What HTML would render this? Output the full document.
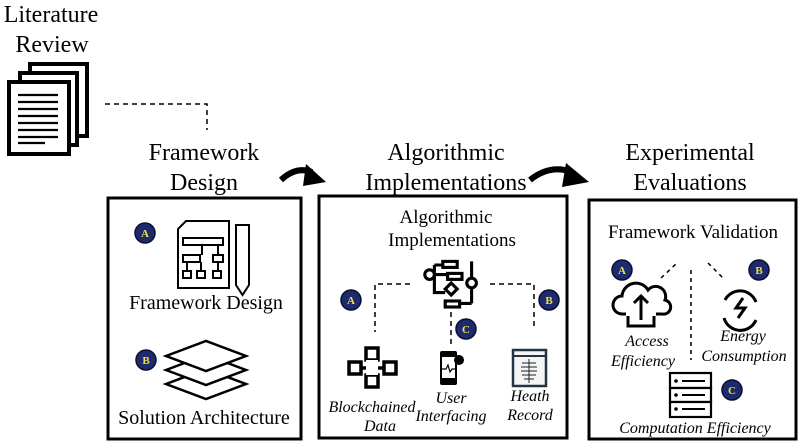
<!DOCTYPE html>
<html><head><style>
html,body{margin:0;padding:0;background:#fff;}
svg{display:block;font-family:"Liberation Serif",serif;}
</style></head><body>
<svg width="800" height="442" viewBox="0 0 800 442" xmlns="http://www.w3.org/2000/svg">
<defs>
<g id="badge"><circle r="10" fill="#1d2a6e" stroke="#0a1030" stroke-width="1.5"/></g>
</defs>
<!-- Literature review -->
<text x="51" y="22" font-size="24" text-anchor="middle">Literature</text>
<text x="52" y="52" font-size="24" text-anchor="middle">Review</text>
<g fill="#fff" stroke="#000" stroke-width="4">
<rect x="30" y="64" width="57" height="72"/>
<rect x="20" y="73" width="57" height="72"/>
<rect x="9" y="82" width="60" height="72"/>
</g>
<g stroke="#000" stroke-width="2.2">
<line x1="18" y1="95" x2="58" y2="95"/><line x1="18" y1="102" x2="58" y2="102"/>
<line x1="18" y1="109" x2="58" y2="109"/><line x1="18" y1="116" x2="58" y2="116"/>
<line x1="18" y1="123" x2="58" y2="123"/><line x1="18" y1="130" x2="58" y2="130"/>
<line x1="18" y1="137" x2="58" y2="137"/><line x1="18" y1="143" x2="45" y2="143"/>
</g>
<polyline points="105,104 207,104 207,130" fill="none" stroke="#000" stroke-width="1.5" stroke-dasharray="5,4"/>

<!-- headings -->
<g font-size="24" text-anchor="middle">
<text x="204" y="160">Framework</text><text x="204" y="190">Design</text>
<text x="446" y="160">Algorithmic</text><text x="446" y="190">Implementations</text>
<text x="690" y="160">Experimental</text><text x="690" y="190">Evaluations</text>
</g>
<!-- curved arrows -->
<path d="M281,180 Q296,166 312,172" fill="none" stroke="#000" stroke-width="6"/>
<polygon points="306,164 326,182 303,186" fill="#000"/>
<path d="M530,180 Q550,164 572,172" fill="none" stroke="#000" stroke-width="6"/>
<polygon points="566,163 589,182 562,187" fill="#000"/>

<!-- boxes -->
<g fill="none" stroke="#000" stroke-width="3">
<rect x="108" y="198" width="193" height="241"/>
<rect x="319" y="196" width="248" height="242"/>
<rect x="589" y="200" width="207" height="239"/>
</g>

<!-- Box 1 -->
<use href="#badge" x="145" y="233"/><text x="145" y="237" font-size="11" fill="#f0e040" text-anchor="middle" font-weight="bold">A</text>
<g fill="none" stroke="#000" stroke-width="2">
<path d="M186,221 L229,221 L229,288 L178,288 L178,229 Z"/>
<rect x="183" y="238" width="40" height="7"/><rect x="183" y="255" width="17" height="7"/><rect x="213" y="255" width="10" height="7"/>
<rect x="183" y="271" width="8" height="7"/><rect x="197" y="271" width="8" height="7"/><rect x="213" y="271" width="8" height="7"/>
<path d="M202,245 v10 M218,245 v10 M187,262 v9 M201,262 v9 M218,262 v9"/>
<path d="M236,225 h13 v60 l-6.5,10 l-6.5,-10 z"/>
</g>
<text x="206" y="309" font-size="20" text-anchor="middle">Framework Design</text>
<use href="#badge" x="146" y="360"/><text x="146" y="364" font-size="11" fill="#f0e040" text-anchor="middle" font-weight="bold">B</text>
<g fill="#fff" stroke="#000" stroke-width="2.5">
<path d="M166,384 L206,369 L246,384 L206,399 Z"/>
<path d="M166,370 L206,355 L246,370 L206,385 Z"/>
<path d="M166,356 L206,341 L246,356 L206,371 Z"/>
</g>
<text x="204" y="424" font-size="20" text-anchor="middle">Solution Architecture</text>

<!-- Box 2 -->
<text x="446" y="223" font-size="19" text-anchor="middle">Algorithmic</text>
<text x="452" y="246" font-size="19" text-anchor="middle">Implementations</text>
<g fill="none" stroke="#000" stroke-width="2.6" transform="translate(450,283) scale(1.2) translate(-450,-283)">
<rect x="444" y="265" width="12" height="5"/><rect x="448" y="275" width="12" height="5"/>
<circle cx="433" cy="276" r="4"/><path d="M446,288 l5,-5 l5,5 l-5,5 z"/>
<rect x="446" y="298" width="12" height="5"/><circle cx="468" cy="283" r="4"/>
<path d="M437,268 h7 M437,268 v23 h9 M468,265 v14 M468,287 v13 M458,300 h10 M437,276 h11"/>
</g>
<g fill="none" stroke="#000" stroke-width="1.5" stroke-dasharray="5,4">
<polyline points="410,284 375,284 375,332"/>
<polyline points="490,284 534,284 534,330"/>
<line x1="451" y1="312" x2="451" y2="345"/>
</g>
<use href="#badge" x="351" y="300"/><text x="351" y="304" font-size="11" fill="#f0e040" text-anchor="middle" font-weight="bold">A</text>
<use href="#badge" x="549" y="300"/><text x="549" y="304" font-size="11" fill="#f0e040" text-anchor="middle" font-weight="bold">B</text>
<use href="#badge" x="466" y="329"/><text x="466" y="333" font-size="11" fill="#f0e040" text-anchor="middle" font-weight="bold">C</text>
<g fill="#fff" stroke="#000" stroke-width="3.5">
<rect x="366" y="348" width="12" height="12"/><rect x="349" y="362" width="12" height="12"/>
<rect x="384" y="362" width="12" height="12"/><rect x="366" y="375" width="12" height="12"/>
<path d="M372,360 v15 M361,368 h23" />
</g>
<rect x="366" y="360" width="12" height="15" fill="#fff"/>
<rect x="440" y="351" width="17" height="34" rx="2" fill="#000"/><rect x="442" y="357" width="13" height="21" fill="#fff"/>
<path d="M442,369 h4 l2,-4 l2,7 l2,-3 h3" fill="none" stroke="#000" stroke-width="1.2"/>
<circle cx="459" cy="360" r="5" fill="#000"/>
<rect x="513" y="350" width="33" height="36" fill="#f4f4f4" stroke="#234" stroke-width="2.5"/>
<line x1="513" y1="356" x2="546" y2="356" stroke="#234" stroke-width="2"/>
<path d="M529,359 v24 M522,363 h14 M521,367 h16 M521,371 h16 M522,375 h14 M524,379 h10" stroke="#222" stroke-width="1"/>
<g font-size="16" font-style="italic" text-anchor="middle">
<text x="372" y="412">Blockchained</text><text x="380" y="431">Data</text>
<text x="451" y="403">User</text><text x="451" y="421">Interfacing</text>
<text x="530" y="401">Heath</text><text x="530" y="420">Record</text>
</g>

<!-- Box 3 -->
<text x="693" y="238" font-size="19" text-anchor="middle">Framework Validation</text>
<g fill="none" stroke="#000" stroke-width="1.5" stroke-dasharray="4,4">
<line x1="661" y1="278" x2="678" y2="262"/>
<line x1="708" y1="263" x2="725" y2="280"/>
<line x1="691" y1="270" x2="691" y2="360"/>
</g>
<use href="#badge" x="622" y="270"/><text x="622" y="274" font-size="11" fill="#f0e040" text-anchor="middle" font-weight="bold">A</text>
<use href="#badge" x="759" y="270"/><text x="759" y="274" font-size="11" fill="#f0e040" text-anchor="middle" font-weight="bold">B</text>
<use href="#badge" x="732" y="390"/><text x="732" y="394" font-size="11" fill="#f0e040" text-anchor="middle" font-weight="bold">C</text>
<g fill="none" stroke="#000" stroke-width="3">
<path d="M626,314 h-4 a9,9 0 0 1 0,-18 a14,14 0 0 1 26,-6 a10,10 0 0 1 17,10 a7,7 0 0 1 -3,14 h-6"/>
<path d="M641,320 v-24 M634,303 l7,-7 l7,7"/>
<path d="M628,316 v10 h26 v-10"/>
<path d="M725,300 a17,17 0 0 1 31,2 M756,320 a17,17 0 0 1 -32,-2"/>
<path d="M743,298 l-7,10 h9 l-7,10"/>
</g>
<g font-size="16" font-style="italic" text-anchor="middle">
<text x="647" y="346">Access</text><text x="643" y="366">Efficiency</text>
<text x="743" y="341">Energy</text><text x="744" y="361">Consumption</text>
<text x="695" y="433">Computation Efficiency</text>
</g>
<g fill="#fff" stroke="#000" stroke-width="2.2">
<rect x="670" y="373" width="41" height="15"/><rect x="670" y="388" width="41" height="14"/><rect x="670" y="402" width="41" height="15"/>
</g>
<g stroke="#000" stroke-width="2">
<line x1="682" y1="381" x2="705" y2="381"/><line x1="682" y1="395" x2="705" y2="395"/><line x1="682" y1="409" x2="705" y2="409"/>
</g>
<circle cx="676" cy="381" r="1.8"/><circle cx="676" cy="395" r="1.8"/><circle cx="676" cy="409" r="1.8"/>
</svg>
</body></html>
